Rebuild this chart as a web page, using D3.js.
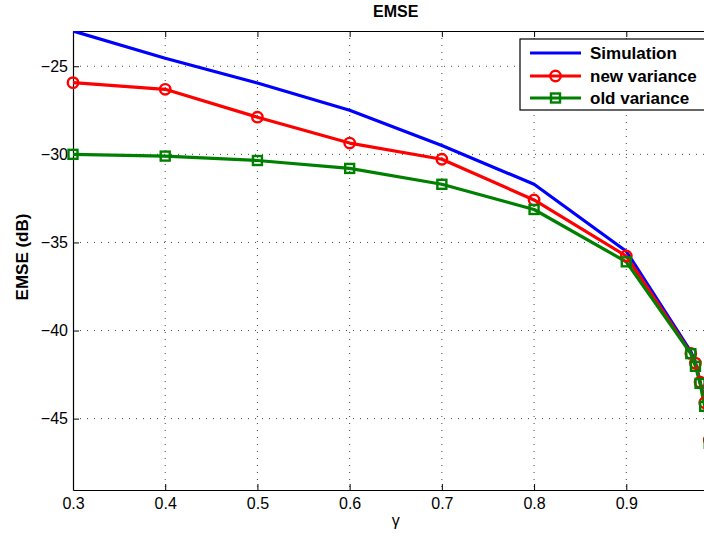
<!DOCTYPE html>
<html>
<head>
<meta charset="utf-8">
<script src="https://cdn.jsdelivr.net/npm/d3@7"></script>
<style>
  html, body { margin: 0; padding: 0; background: #fff; overflow: hidden; }
  svg { display: block; font-family: "Liberation Sans", Arial, Helvetica, sans-serif; }
</style>
</head>
<body>
<svg id="chart" width="704" height="538"></svg>
<script>
// gamma values along the x axis
const gamma = [0.3, 0.4, 0.5, 0.6, 0.7, 0.8, 0.9, 0.97, 0.975, 0.98, 0.985, 0.99];
// EMSE in dB for each curve
const simulation  = [-23.0, -24.55, -25.95, -27.5, -29.5, -31.7, -35.5, -41.2, -41.8, -42.9, -44.0, -46.0];
const newVariance = [-25.93, -26.31, -27.89, -29.36, -30.28, -32.59, -35.77, -41.3, -41.85, -42.93, -44.1, -46.2];
const oldVariance = [-30.0, -30.1, -30.35, -30.8, -31.7, -33.13, -36.1, -41.31, -42.03, -43.0, -44.3, -46.4];
const xTicks = [0.3, 0.4, 0.5, 0.6, 0.7, 0.8, 0.9];
const yTicks = [-25, -30, -35, -40, -45];
const seriesNames = ["Simulation", "new variance", "old variance"];

const svg = d3.select("#chart");
const plotLeft = 73, plotRight = 718.5, plotTop = 31, plotBottom = 490;

const x = d3.scaleLinear().domain([0.3, 1.0]).range([plotLeft, plotRight]);
const y = d3.scaleLinear().domain([-49.05, -23]).range([plotBottom, plotTop]);

// dotted grid
const grid = svg.append("g");
grid.selectAll("line.gx").data(xTicks.slice(1)).join("line").attr("class", "gx")
  .attr("x1", d => x(d)).attr("x2", d => x(d))
  .attr("y1", plotTop).attr("y2", plotBottom)
  .attr("stroke", "#444").attr("stroke-width", 1).attr("stroke-dasharray", "1,6");
grid.selectAll("line.gy").data(yTicks).join("line").attr("class", "gy")
  .attr("y1", d => y(d)).attr("y2", d => y(d))
  .attr("x1", plotLeft).attr("x2", plotRight)
  .attr("stroke", "#444").attr("stroke-width", 1).attr("stroke-dasharray", "1,6");

// axes with inward ticks
const xAxisB = d3.axisBottom(x).tickValues(xTicks).tickFormat(d3.format(".1f")).tickSizeInner(-6).tickSizeOuter(0).tickPadding(8);
const xAxisT = d3.axisTop(x).tickValues(xTicks).tickFormat("").tickSizeInner(-6).tickSizeOuter(0);
const yAxisL = d3.axisLeft(y).tickValues(yTicks).tickFormat(d => "\u2212" + Math.abs(d)).tickSizeInner(-6).tickSizeOuter(0).tickPadding(5);

function styleAxis(g) {
  g.select(".domain").attr("stroke", "#000").attr("stroke-width", 1.2);
  g.selectAll(".tick line").attr("stroke", "#000").attr("stroke-width", 1);
  g.selectAll(".tick text").attr("fill", "#000").attr("font-size", 16)
    .attr("font-family", "Liberation Sans, Arial, sans-serif");
}

svg.append("g").attr("transform", `translate(0,${plotBottom})`).call(xAxisB).call(styleAxis);
svg.append("g").attr("transform", `translate(0,${plotTop})`).call(xAxisT).call(styleAxis);
svg.append("g").attr("transform", `translate(${plotLeft},0)`).call(yAxisL).call(styleAxis);

// plot area clip
svg.append("clipPath").attr("id", "plotClip").append("rect")
  .attr("x", plotLeft).attr("y", plotTop).attr("width", plotRight - plotLeft).attr("height", plotBottom - plotTop);

const plot = svg.append("g").attr("clip-path", "url(#plotClip)");
const line = d3.line().x((d, i) => x(gamma[i])).y(d => y(d));

const colors = ["#0000ff", "#ff0000", "#008000"];

[simulation, newVariance, oldVariance].forEach((s, k) => {
  plot.append("path").datum(s).attr("d", line)
    .attr("fill", "none").attr("stroke", colors[k]).attr("stroke-width", 3.2).attr("stroke-linejoin", "round");
});

// markers
const markers = svg.append("g");
markers.selectAll("circle").data(newVariance).join("circle")
  .attr("cx", (d, i) => x(gamma[i])).attr("cy", d => y(d)).attr("r", 5.2)
  .attr("fill", "none").attr("stroke", colors[1]).attr("stroke-width", 2.4);
markers.selectAll("rect").data(oldVariance).join("rect")
  .attr("x", (d, i) => x(gamma[i]) - 4.5).attr("y", d => y(d) - 4.5)
  .attr("width", 9).attr("height", 9)
  .attr("fill", "none").attr("stroke", colors[2]).attr("stroke-width", 2.4);

// title and axis labels
svg.append("text").attr("x", x(0.65)).attr("y", 17).attr("text-anchor", "middle")
  .attr("font-size", 16).attr("font-weight", "bold").text("EMSE");
svg.append("text").attr("x", x(0.65)).attr("y", 526).attr("text-anchor", "middle")
  .attr("font-size", 16).text("\u03b3");
svg.append("text").attr("transform", `translate(28,257) rotate(-90)`)
  .attr("text-anchor", "middle").attr("font-size", 17).attr("font-weight", "bold").text("EMSE (dB)");

// legend
const lg = svg.append("g").attr("transform", "translate(520,39)");
lg.append("rect").attr("x", 0).attr("y", 0).attr("width", 200).attr("height", 71)
  .attr("fill", "#fff").attr("stroke", "#000").attr("stroke-width", 1.2);
const rowsY = [14, 37, 59];
seriesNames.forEach((name, i) => {
  const ry = rowsY[i];
  lg.append("line").attr("x1", 10).attr("x2", 61).attr("y1", ry).attr("y2", ry)
    .attr("stroke", colors[i]).attr("stroke-width", 3.2);
  if (i === 1) {
    lg.append("circle").attr("cx", 35.5).attr("cy", ry).attr("r", 5.2)
      .attr("fill", "none").attr("stroke", colors[i]).attr("stroke-width", 2.4);
  } else if (i === 2) {
    lg.append("rect").attr("x", 31).attr("y", ry - 4.5).attr("width", 9).attr("height", 9)
      .attr("fill", "none").attr("stroke", colors[i]).attr("stroke-width", 2.4);
  }
  lg.append("text").attr("x", 70).attr("y", ry + 6).attr("font-size", 17)
    .attr("font-weight", "bold").text(name);
});
</script>
</body>
</html>
